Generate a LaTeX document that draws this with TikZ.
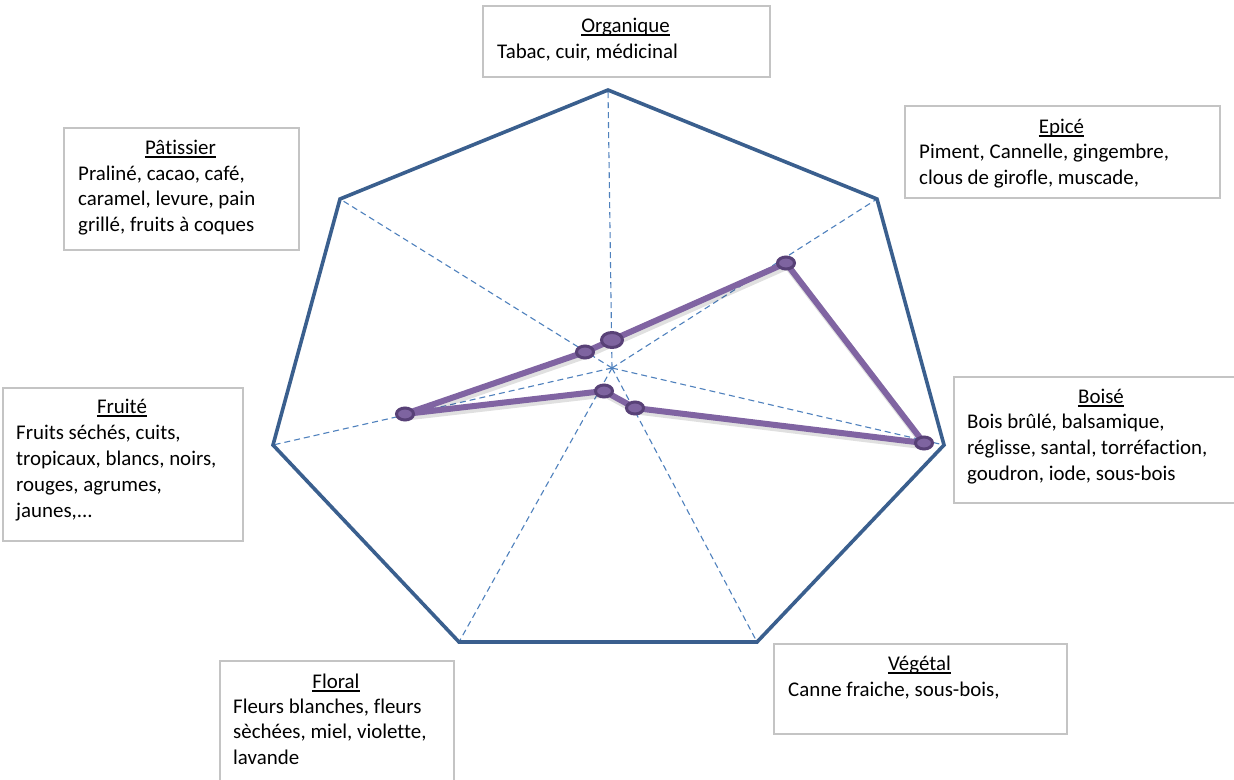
\documentclass[tikz,border=0pt]{standalone}
\usepackage{fontspec}
\setmainfont{Carlito}[Ligatures=NoCommon]
\usetikzlibrary{shapes.geometric}
\definecolor{polyblue}{HTML}{3A5F8E}
\definecolor{axisblue}{HTML}{4F81BD}
\definecolor{datapurple}{HTML}{8064A2}
\definecolor{markfill}{HTML}{7E64A0}
\definecolor{markdraw}{HTML}{584177}
\definecolor{boxgray}{HTML}{C4C4C4}
\tikzset{
  polyline/.style={polyblue, line width=3.6pt, line join=miter},
  axisline/.style={axisblue, line width=1.1pt, dash pattern=on 6pt off 4pt},
  dataline/.style={datapurple, line width=6pt, line join=round},
  datashadow/.style={black, opacity=0.12, line width=7pt, line join=round},
  marker/.style={ellipse, fill=markfill, draw=markdraw, line width=3pt, inner sep=0pt, minimum width=17pt, minimum height=12pt},
  bigmarker/.style={marker, minimum width=21pt, minimum height=15pt},
  boxst/.style={draw=boxgray, line width=1.5pt, fill=white, inner sep=0pt, anchor=north west},
  ttl/.style={anchor=base, inner sep=0pt, font=\fontsize{20.9}{25.5}\selectfont},
  txt/.style={anchor=base west, inner sep=0pt, font=\fontsize{20.9}{25.5}\selectfont},
  uline/.style={black, line width=1.4pt}
}
\begin{document}
\begin{tikzpicture}[x=1pt,y=-1pt]
\useasboundingbox (0,0) rectangle (1234,779);
\fill[white] (0,0) rectangle (1234,779);
% heptagon vertices
\coordinate (vO) at (608,90);
\coordinate (vE) at (877,199);
\coordinate (vB) at (944,445);
\coordinate (vV) at (757,642);
\coordinate (vF) at (459,642);
\coordinate (vR) at (273,445);
\coordinate (vP) at (340,199);
\coordinate (cen) at (612,368);
% axes
\foreach \v in {vO,vE,vB,vV,vF,vR,vP}{\draw[axisline] (cen) -- (\v);}
% outline
\draw[polyline] (vO) -- (vE) -- (vB) -- (vV) -- (vF) -- (vR) -- (vP) -- cycle;
% data points
\coordinate (dO) at (612,340);
\coordinate (dE) at (786,263);
\coordinate (dB) at (924,443);
\coordinate (dV) at (635,408);
\coordinate (dF) at (604,391);
\coordinate (dR) at (405,414);
\coordinate (dP) at (585,352);
\draw[datashadow, transform canvas={shift={(1.5pt,-3pt)}}] (dO) -- (dE) -- (dB) -- (dV) -- (dF) -- (dR) -- (dP) -- cycle;
\draw[dataline] (dO) -- (dE) -- (dB) -- (dV) -- (dF) -- (dR) -- (dP) -- cycle;
\node[bigmarker] (mO) at (dO) {};
\node[marker] (mE) at (dE) {};
\node[marker] (mB) at (dB) {};
\node[marker] (mV) at (dV) {};
\node[marker] (mF) at (dF) {};
\node[marker] (mR) at (dR) {};
\node[marker] (mP) at (dP) {};
% boxes
\node[boxst, minimum width=287pt, minimum height=71pt] (bO) at (482,5) {};
\node[ttl] (tO) at (625.5,32) {Organique};
\node[txt] (lO1) at (497,58) {Tabac, cuir, médicinal};

\node[boxst, minimum width=315pt, minimum height=92pt] (bE) at (904,105) {};
\node[ttl] (tE) at (1061.5,133) {Epicé};
\node[txt] (lE1) at (919,158) {Piment, Cannelle, gingembre,};
\node[txt] (lE2) at (919,184) {clous de girofle, muscade,};

\node[boxst, minimum width=235pt, minimum height=122pt] (bP) at (63,127) {};
\node[ttl] (tP) at (180.5,154) {Pâtissier};
\node[txt] (lP1) at (78,180) {Praliné, cacao, café,};
\node[txt] (lP2) at (78,205.5) {caramel, levure, pain};
\node[txt] (lP3) at (78,231) {grillé, fruits à coques};

\node[boxst, minimum width=240pt, minimum height=153pt] (bR) at (2,387) {};
\node[ttl] (tR) at (122,413) {Fruité};
\node[txt] (lR1) at (16,439) {Fruits séchés, cuits,};
\node[txt] (lR2) at (16,465) {tropicaux, blancs, noirs,};
\node[txt] (lR3) at (16,491) {rouges, agrumes,};
\node[txt] (lR4) at (16,517) {jaunes,...};

\node[boxst, minimum width=296pt, minimum height=126pt] (bB) at (953,376) {};
\node[ttl] (tB) at (1101,403) {Boisé};
\node[txt] (lB1) at (967,428) {Bois brûlé, balsamique,};
\node[txt] (lB2) at (967,454) {réglisse, santal, torréfaction,};
\node[txt] (lB3) at (967,480) {goudron, iode, sous-bois};

\node[boxst, minimum width=293pt, minimum height=90pt] (bV) at (773,643) {};
\node[ttl] (tV) at (919.5,670) {Végétal};
\node[txt] (lV1) at (788,696) {Canne fraiche, sous-bois,};

\node[boxst, minimum width=234pt, minimum height=140pt] (bF) at (219,660) {};
\node[ttl] (tF) at (336,688) {Floral};
\node[txt] (lF1) at (233,713) {Fleurs blanches, fleurs};
\node[txt] (lF2) at (233,738.5) {sèchées, miel, violette,};
\node[txt] (lF3) at (233,764) {lavande};

\foreach \t in {tO,tE,tP,tR,tB,tV,tF}{
  \draw[uline] ([yshift=-2.8pt]\t.base west) -- ([yshift=-2.8pt]\t.base east);
}
\end{tikzpicture}
\end{document}
